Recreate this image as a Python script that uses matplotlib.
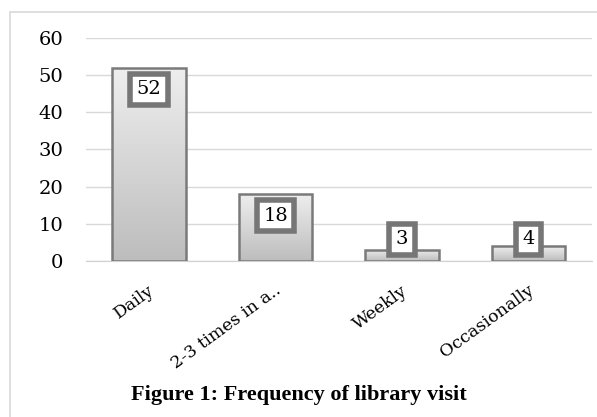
import matplotlib.pyplot as plt
import matplotlib.patches as mpatches
import matplotlib.transforms as mtransforms
from matplotlib.colors import LinearSegmentedColormap
import numpy as np

## data ##
categories = ['Daily', '2-3 times in a..', 'Weekly', 'Occasionally']
visits = [52, 18, 3, 4]
yticks = [0, 10, 20, 30, 40, 50, 60]
caption = 'Figure 1: Frequency of library visit'

## plot ##
fig = plt.figure(figsize=(5.97, 4.17), dpi=100)
ax = fig.add_axes([0.1434, 0.374, 0.8482, 0.535])

# chart frame
fig.patches.append(mpatches.Rectangle((10 / 597, -0.1), 1.2, 1 - 12 / 417 + 0.1,
                                      transform=fig.transFigure, fill=False,
                                      edgecolor='#d9d9d9', linewidth=1.2))

x = np.arange(len(categories))
width = 0.58
bars = ax.bar(x, visits, width=width, color='none', edgecolor='#7a7a7a',
              linewidth=1.8, zorder=3)

# vertical grey gradient inside each bar (light top -> darker bottom)
cmap = LinearSegmentedColormap.from_list('bargrey', ['#eeeeee', '#bdbdbd'])
grad = np.linspace(0, 1, 100).reshape(-1, 1)
for b in bars:
    x0, y0 = b.get_x(), b.get_y()
    im = ax.imshow(grad, cmap=cmap, vmin=0, vmax=1, aspect='auto',
                   extent=(x0, x0 + b.get_width(), y0, y0 + b.get_height()),
                   origin='upper', zorder=2)
    im.set_clip_path(b)

# data labels
for xi, v in zip(x, visits):
    yc = max(v - 5.8, 5.8)
    ax.text(xi, yc, str(v), ha='center', va='center', fontsize=14,
            family='DejaVu Serif', zorder=5,
            bbox=dict(boxstyle='square,pad=0.33', facecolor='white',
                      edgecolor='#767676', linewidth=4))

ax.set_xlim(-0.5, len(categories) - 0.5)
ax.set_ylim(0, 60)
ax.set_yticks(yticks)
ax.set_yticklabels([str(t) for t in yticks], family='DejaVu Serif', fontsize=14)
ax.set_xticks(x)
ax.set_xticklabels(categories, rotation=36, ha='right', rotation_mode='anchor',
                   family='DejaVu Serif', fontsize=12.5)
ax.tick_params(length=0, pad=15)
ax.tick_params(axis='y', pad=16)
shift = mtransforms.ScaledTranslation(-1 / 100, 0, fig.dpi_scale_trans)
for lab in ax.get_xticklabels():
    lab.set_transform(lab.get_transform() + shift)
ax.grid(axis='y', color='#d9d9d9', linewidth=1)
ax.set_axisbelow(True)
for s in ['top', 'right', 'left']:
    ax.spines[s].set_visible(False)
ax.spines['bottom'].set_color('#d0d0d0')

fig.text(0.5, 0.052, caption, ha='center', va='center', fontsize=16,
         family='Liberation Serif', weight='bold')

fig.savefig('out.png', dpi=100)
